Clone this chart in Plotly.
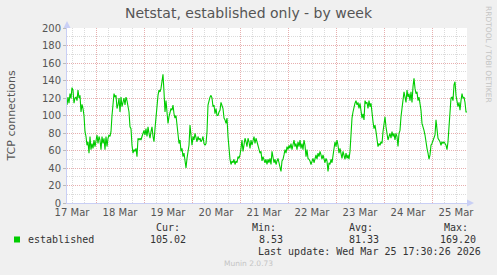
import pandas as pd
import plotly.graph_objects as go

# ---- data ----
start_time = "2026-03-17 09:30"
end_time = "2026-03-25 17:30"
sample_freq = "30min"

established = [
    112, 121, 114, 125, 119.6, 131.8, 129, 114, 120, 121,
    117, 129, 120, 123, 104, 112.7, 108, 100, 81.5, 76,
    66, 70, 57, 76, 61, 68, 62.5, 72, 64.5, 74,
    77.7, 68, 76, 72, 61, 76, 68, 74, 61, 76,
    64.5, 74, 77.7, 76, 81.5, 100, 115, 125, 121, 123,
    108, 112, 120, 104, 121, 110, 115, 120, 112, 121,
    117, 110, 104, 87, 85, 66, 57, 61, 59, 62.5,
    53, 74, 72, 74, 72, 76, 81.5, 83,
    77.7, 85, 76, 87, 79.6, 74, 81.5, 87, 76, 70,
    85, 100, 114, 123, 129, 127, 131, 140.6, 147, 127,
    104, 117, 100, 91, 98.6, 104, 108, 106, 112, 102,
    97, 100, 91, 79.6, 68, 72, 59, 62.5, 53, 57,
    45, 40, 51, 59, 66, 89, 72, 66, 76, 72,
    79.6, 74, 70, 76, 72, 74, 70, 72, 76, 68,
    66, 68, 81.5, 112, 117, 121, 123, 120, 110, 112,
    102, 108, 100, 100, 104, 106, 115, 110, 108, 97,
    95, 91,
    97, 76, 59, 50, 44, 48, 46, 50, 44, 48,
    46, 53, 51, 55, 62.5, 72, 59, 66, 74, 70,
    64.5, 74, 70, 62.5, 72, 66, 72, 76, 68, 74,
    70, 66, 62.5, 57, 59, 48, 53, 50, 46, 50,
    44, 50, 46, 51, 44, 59, 51, 46, 50, 44,
    48, 51, 46, 40, 36, 48, 50, 55, 61, 57,
    64.5, 61, 66, 62.5, 68, 61, 66, 72, 64.5, 68,
    61, 70, 64.5, 72, 62.5, 68, 61, 72, 66, 53,
    61,
    51, 50, 48, 44, 48, 51, 46, 51, 55, 50,
    57, 53, 59, 55, 50, 55, 51, 46, 51, 48,
    36, 46, 44, 50, 46, 55, 61, 70, 64.5, 72,
    66, 57, 62.5, 55, 51, 59, 55, 50, 57, 51,
    55, 50, 59, 89, 97, 104, 110, 114, 117, 112,
    115, 108, 114, 106, 97, 102, 95, 117, 114, 115,
    108, 117, 110, 114, 100, 93, 85, 89, 81.5, 74,
    64.5, 68, 66, 70, 68, 81.5, 93, 98.6, 87, 76,
    72,
    76, 79.6, 74, 81.5, 76, 79.6, 72, 79.6, 76, 64.5,
    79.6, 83, 98.6, 110, 117, 127, 121, 115, 129, 121,
    125, 117, 127, 115, 133, 142.5, 131, 125, 127, 117,
    121, 114, 106, 91, 85, 83, 77.7, 68, 62.5, 57,
    50, 55, 66, 68, 72, 76, 77.7, 95, 85, 74,
    72, 70, 66, 70, 68, 70, 68, 66, 61, 70,
    87, 100, 120, 121, 117, 135, 138.6, 123, 117, 110,
    115, 106, 117, 125, 120, 121, 115, 104, 104,
]

series_name = "established"
stat_headers = ["Cur:", "Min:", "Avg:", "Max:"]
stat_values = ["105.02", "8.53", "81.33", "169.20"]
title_text = "Netstat, established only - by week"
y_title = "TCP connections"
last_update = "Last update: Wed Mar 25 17:30:26 2026"
footer_text = "Munin 2.0.73"
side_text = "RRDTOOL / TOBI OETIKER"
y_range = [0, 200]

times = pd.date_range(start=start_time, periods=len(established), freq=sample_freq)

# ---- layout geometry (pixels) ----
W, H = 497, 275
L, R, T, B = 67, 30, 28, 72
PW, PH = W - L - R, H - T - B


def px(x):
    return (x - L) / PW


def py(y):
    return (H - B - y) / PH


GREEN = "#00cc00"
TXT = "#555555"
MAJOR = "rgba(215,120,120,0.6)"
MINOR = "rgba(175,175,175,0.45)"
AXIS = "#c9cff5"
DASH = "1px,1px"

fig = go.Figure()
fig.add_trace(go.Scatter(
    x=times, y=established, mode="lines",
    line=dict(color=GREEN, width=1.1), name=series_name,
    showlegend=False, hoverinfo="skip",
))

fig.update_layout(
    width=W, height=H,
    margin=dict(l=L, r=R, t=T, b=B, pad=0),
    paper_bgcolor="#f0f0f0",
    plot_bgcolor="#ffffff",
    showlegend=False,
    font=dict(family="DejaVu Sans", size=10, color=TXT),
    title=dict(text=title_text, x=0.5, xref="container", xanchor="center",
               y=1 - 13 / H, yref="container", yanchor="middle",
               font=dict(family="DejaVu Sans", size=14, color=TXT)),
)

fig.update_xaxes(
    type="date",
    range=[start_time, end_time],
    tick0="2026-03-17", dtick=86400000,
    ticklabelmode="period", tickformat="%d %b",
    showgrid=True, gridcolor=MAJOR, griddash=DASH, gridwidth=1,
    minor=dict(dtick=6 * 3600 * 1000, showgrid=True, gridcolor=MINOR,
               griddash=DASH, gridwidth=1),
    showline=True, linecolor=AXIS, linewidth=1,
    ticks="", zeroline=False,
    tickfont=dict(family="DejaVu Sans", size=10, color=TXT),
    fixedrange=True,
)
fig.update_yaxes(
    range=y_range, dtick=20,
    showgrid=True, gridcolor=MAJOR, griddash=DASH, gridwidth=1,
    minor=dict(dtick=10, showgrid=True, gridcolor=MINOR, griddash=DASH, gridwidth=1),
    showline=True, linecolor=AXIS, linewidth=1,
    ticks="outside", ticklen=3, tickcolor="#bbbbbb",
    zeroline=False,
    tickfont=dict(family="DejaVu Sans", size=10, color=TXT),
    fixedrange=True,
)

# axis arrows
fig.add_shape(type="path", xref="paper", yref="paper",
              path=f"M {px(63.5)} {py(28)} L {px(70.5)} {py(28)} L {px(67)} {py(21)} Z",
              fillcolor=AXIS, line=dict(width=0))
fig.add_shape(type="path", xref="paper", yref="paper",
              path=f"M {px(467)} {py(199.5)} L {px(467)} {py(206.5)} L {px(474)} {py(203)} Z",
              fillcolor=AXIS, line=dict(width=0))

ann = []
ann.append(dict(text=y_title, x=px(11), y=py(115.5), xref="paper", yref="paper",
                textangle=-90, showarrow=False, xanchor="center", yanchor="middle",
                font=dict(family="DejaVu Sans", size=11, color=TXT)))
ann.append(dict(text=side_text, x=px(489), y=py(54), xref="paper", yref="paper",
                textangle=90, showarrow=False, xanchor="center", yanchor="middle",
                font=dict(family="DejaVu Sans", size=7.5, color="#c4c4c4")))

mono = dict(family="DejaVu Sans Mono", size=10, color="#333333")
# legend marker + name
fig.add_shape(type="rect", xref="paper", yref="paper",
              x0=px(14), x1=px(20), y0=py(242.5), y1=py(236.5),
              fillcolor=GREEN, line=dict(width=0))
ann.append(dict(text=series_name, x=px(25.5), y=py(239.7), xref="paper", yref="paper",
                showarrow=False, xanchor="left", yanchor="middle", font=mono))

header_right = [182, 278, 375, 470]
value_right = [188, 284.5, 381, 477.5]
for h, v, hx, vx in zip(stat_headers, stat_values, header_right, value_right):
    ann.append(dict(text=h, x=px(hx), y=py(227.7), xref="paper", yref="paper",
                    showarrow=False, xanchor="right", yanchor="middle", font=mono))
    ann.append(dict(text=v, x=px(vx), y=py(239.7), xref="paper", yref="paper",
                    showarrow=False, xanchor="right", yanchor="middle", font=mono))

ann.append(dict(text=last_update, x=px(483), y=py(251.7), xref="paper", yref="paper",
                showarrow=False, xanchor="right", yanchor="middle", font=mono))
ann.append(dict(text=footer_text, x=px(248), y=py(263.5), xref="paper", yref="paper",
                showarrow=False, xanchor="center", yanchor="middle",
                font=dict(family="DejaVu Sans", size=7.5, color="#c4c4c4")))

fig.update_layout(annotations=ann)

fig.write_html("out.html", config={"displayModeBar": False})
